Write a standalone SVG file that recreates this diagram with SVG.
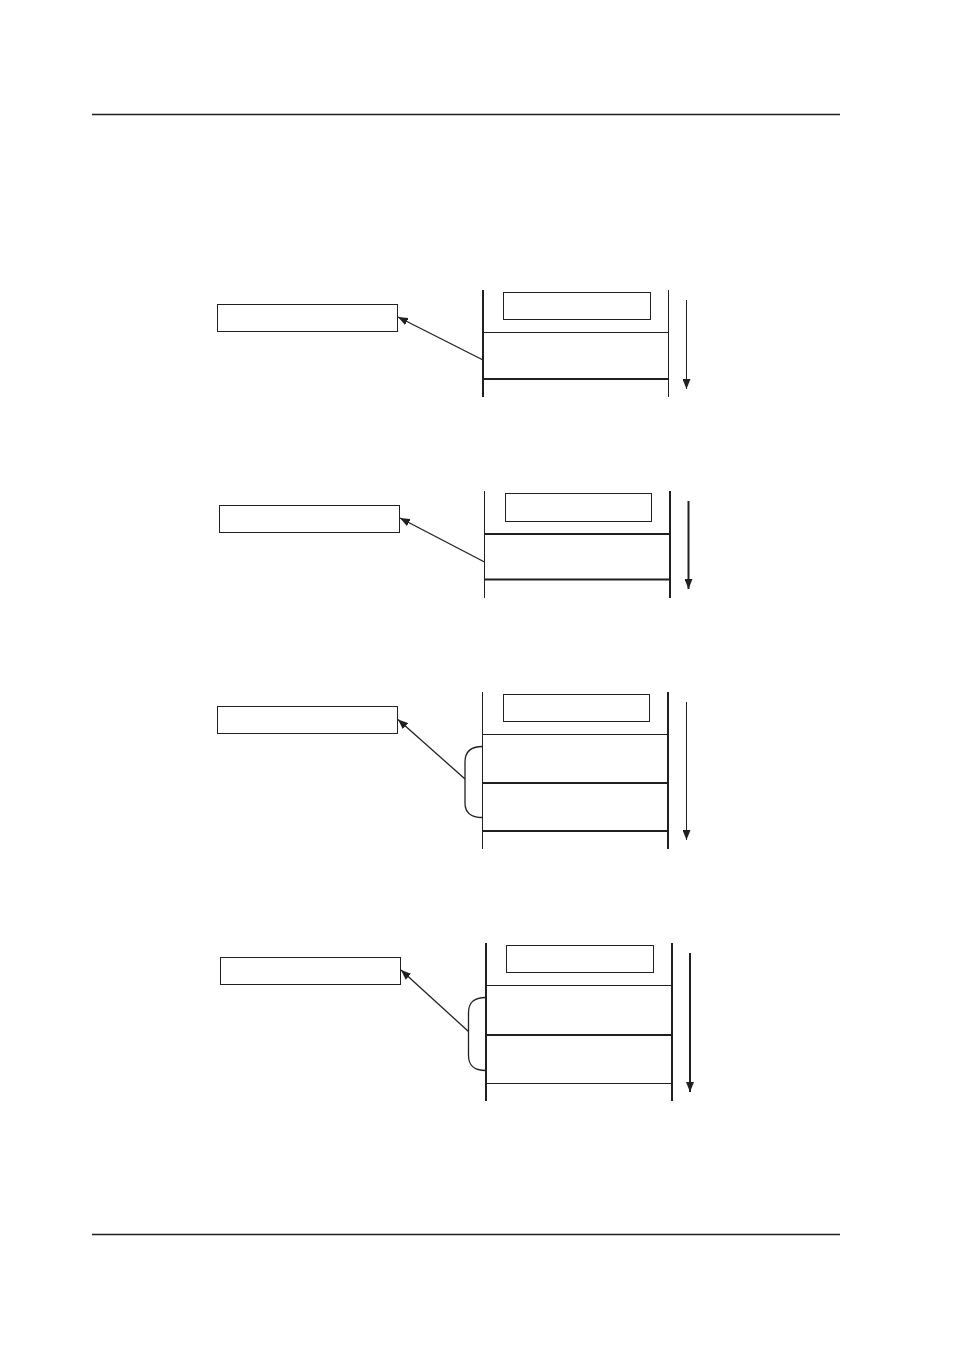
<svg xmlns="http://www.w3.org/2000/svg" width="954" height="1350" viewBox="0 0 954 1350">
<defs>
<style>
.thin{stroke:#231f20;stroke-width:1;fill:none}
.thick{stroke:#231f20;stroke-width:2;fill:none}
.box{stroke:#231f20;stroke-width:1;fill:#fff}
.conn{stroke:#231f20;stroke-width:1.3;fill:none}
.brk{stroke:#231f20;stroke-width:1.3;fill:none}
</style>
<marker id="ah" viewBox="0 0 10 8" refX="10" refY="4" markerWidth="10" markerHeight="8" markerUnits="userSpaceOnUse" orient="auto">
<path d="M0,0 L10,4 L0,8 z" fill="#231f20"/>
</marker>
</defs>
<rect width="954" height="1350" fill="#fff"/>
<g id="frame">
<line x1="92" y1="114.5" x2="840" y2="114.5" class="thin" style="stroke-width:1.3"/>
<line x1="92" y1="1234.5" x2="840" y2="1234.5" class="thin" style="stroke-width:1.3"/>
</g>
<g id="panel1">
<rect id="p1-label" class="box" x="217.5" y="304.5" width="180" height="27"/>
<line class="thick" x1="483" y1="290" x2="483" y2="397"/>
<line class="thin" x1="668.5" y1="290" x2="668.5" y2="397"/>
<rect id="p1-inner" class="box" x="503.5" y="292.5" width="147" height="27"/>
<line class="thin" x1="483" y1="332.5" x2="668.5" y2="332.5"/>
<line class="thick" x1="483" y1="379" x2="668.5" y2="379"/>
</g>
<g id="panel2">
<rect id="p2-label" class="box" x="219.5" y="505.5" width="180" height="27"/>
<line class="thin" x1="484.5" y1="491" x2="484.5" y2="598"/>
<line class="thick" x1="670" y1="491" x2="670" y2="598"/>
<rect id="p2-inner" class="box" x="505.5" y="493.5" width="146" height="28"/>
<line class="thick" x1="484.5" y1="534" x2="670" y2="534"/>
<line class="thick" x1="484.5" y1="579.5" x2="670" y2="579.5"/>
</g>
<g id="panel3">
<rect id="p3-label" class="box" x="217.5" y="706.5" width="180" height="27"/>
<line class="thin" x1="482.5" y1="692" x2="482.5" y2="849"/>
<line class="thick" x1="668" y1="692" x2="668" y2="849"/>
<rect id="p3-inner" class="box" x="503.5" y="694.5" width="146" height="27"/>
<line class="thin" x1="482.5" y1="734.5" x2="668" y2="734.5"/>
<line class="thick" x1="482.5" y1="783" x2="668" y2="783"/>
<line class="thick" x1="482.5" y1="831" x2="668" y2="831"/>
<path class="brk" d="M482.5,746.5 C470,746.5 465,752 465,762 L465,803 C465,812 470,817.5 482.5,817.5"/>
</g>
<g id="panel4">
<rect id="p4-label" class="box" x="220.5" y="957.5" width="180" height="27"/>
<line class="thick" x1="486" y1="943" x2="486" y2="1101"/>
<line class="thick" x1="672" y1="943" x2="672" y2="1101"/>
<rect id="p4-inner" class="box" x="506.5" y="945.5" width="147" height="27"/>
<line class="thin" x1="486" y1="985.5" x2="672" y2="985.5"/>
<line class="thick" x1="486" y1="1035" x2="672" y2="1035"/>
<line class="thin" x1="486" y1="1083.5" x2="672" y2="1083.5"/>
<path class="brk" d="M486,997.5 C473,997.5 468.5,1003 468.5,1013 L468.5,1055 C468.5,1065 473,1070.5 486,1070.5"/>
</g>
<g id="connectors">
<line class="conn" x1="483" y1="360" x2="398" y2="317" marker-end="url(#ah)"/>
<line class="conn" x1="484.5" y1="562" x2="400" y2="518" marker-end="url(#ah)"/>
<line class="conn" x1="465" y1="779" x2="398" y2="719.5" marker-end="url(#ah)"/>
<line class="conn" x1="468.5" y1="1031.5" x2="401" y2="970" marker-end="url(#ah)"/>
<line class="thin" x1="686.5" y1="300" x2="686.5" y2="389" marker-end="url(#ah)"/>
<line class="thick" x1="688.5" y1="501" x2="688.5" y2="589" marker-end="url(#ah)"/>
<line class="thin" x1="686.5" y1="702" x2="686.5" y2="840" marker-end="url(#ah)"/>
<line class="thick" x1="690" y1="953" x2="690" y2="1092" marker-end="url(#ah)"/>
</g>
</svg>
